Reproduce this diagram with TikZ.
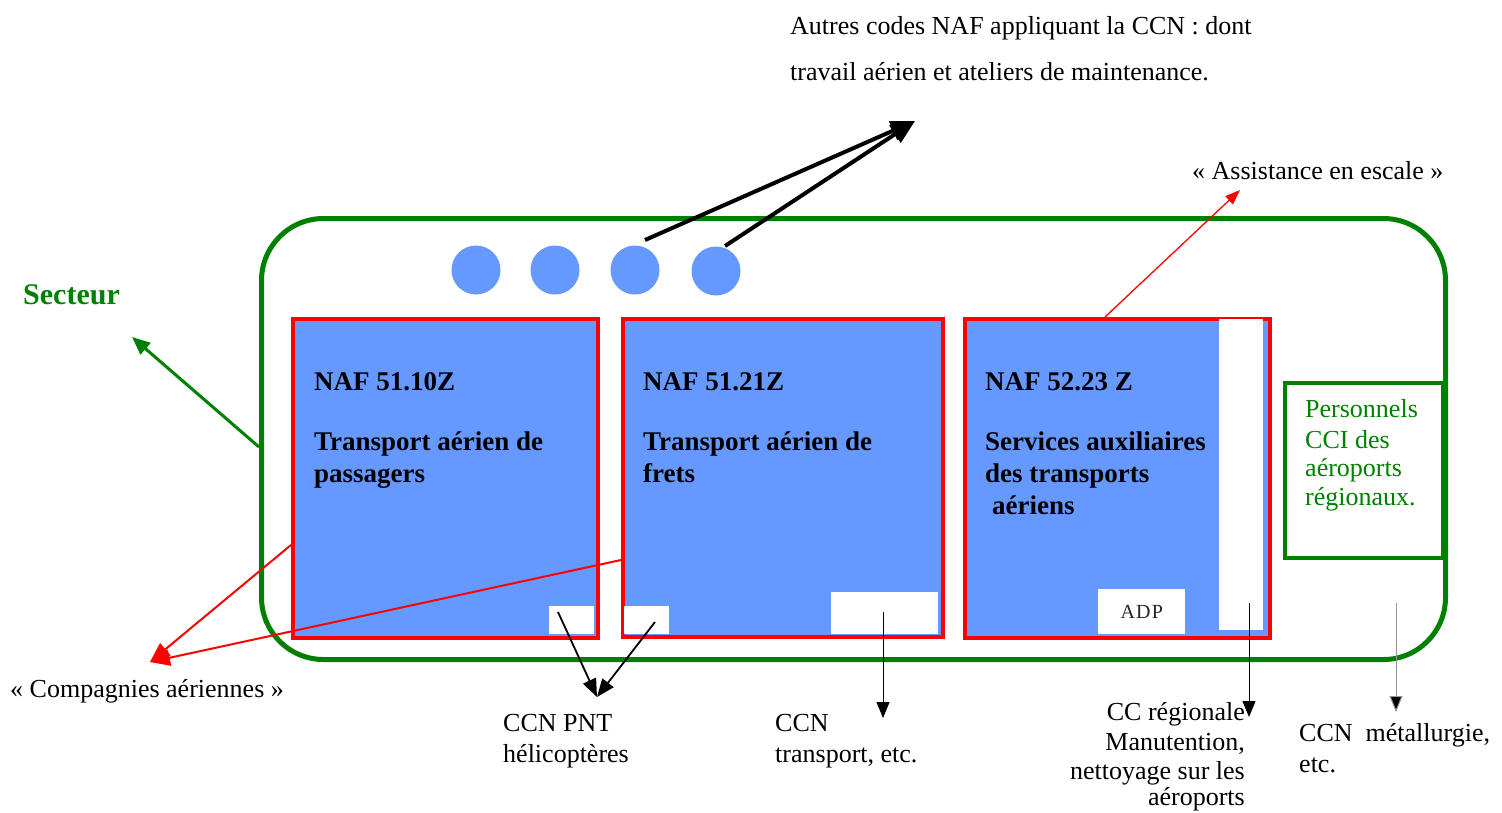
\documentclass[tikz,border=0pt]{standalone}
\usepackage{fontspec}
\setmainfont{Liberation Serif}
\usetikzlibrary{arrows.meta}
\definecolor{fillblue}{RGB}{102,153,255}
\definecolor{dgreen}{RGB}{0,128,0}
\definecolor{lgray}{RGB}{150,150,150}
\begin{document}
\begin{tikzpicture}[x=1pt,y=-1pt,
  nafbox/.style={draw=red,fill=fillblue,line width=4pt,anchor=north west,inner sep=0pt},
  patch/.style={fill=white,anchor=north west,inner sep=0pt},
  dot/.style={circle,fill=fillblue,minimum size=49pt,inner sep=0pt},
  btxt/.style={anchor=base west,inner sep=0pt,font=\bfseries\fontsize{27}{32}\selectfont},
  rtxt/.style={anchor=base west,inner sep=0pt,font=\fontsize{26}{31}\selectfont},
  rtxtr/.style={anchor=base east,inner sep=0pt,font=\fontsize{26}{31}\selectfont},
  gtxt/.style={rtxt,text=dgreen},
  bigarrow/.style={draw=black,line width=4pt,-{Triangle[length=24pt,width=20pt]}},
  redthin/.style={draw=red,line width=1.3pt,-{Triangle[length=15pt,width=11pt]}},
  redmid/.style={draw=red,line width=2pt,-{Triangle[length=20pt,width=16pt]}},
  blkmid/.style={draw=black,line width=1.8pt,-{Triangle[length=18pt,width=14pt]}},
  downarrow/.style={draw=black,line width=1pt,-{Triangle[length=16pt,width=13pt]}},
  grnarrow/.style={draw=dgreen,line width=3pt,-{Triangle[length=18pt,width=15pt]}}
]
\useasboundingbox (0,0) rectangle (1502,812);

% sector frame
\node[draw=dgreen,line width=5pt,rounded corners=62pt,anchor=north west,
      minimum width=1184pt,minimum height=441pt,inner sep=0pt] (sector) at (259,216) {};

% circles
\node[dot] (c1) at (476,270) {};
\node[dot] (c2) at (555,270) {};
\node[dot] (c3) at (635,270) {};
\node[dot] (c4) at (716,271) {};

% NAF boxes
\node[nafbox,minimum width=305pt,minimum height=319pt] (b1) at (291,317) {};
\node[nafbox,minimum width=320pt,minimum height=318pt] (b2) at (621,317) {};
\node[nafbox,minimum width=305pt,minimum height=319pt] (b3) at (963,317) {};

% white patches
\node[patch,minimum width=45pt,minimum height=28pt] (w1) at (549,606) {};
\node[patch,minimum width=45pt,minimum height=28pt] (w2) at (624,606) {};
\node[patch,minimum width=107pt,minimum height=42pt] (w3) at (831,592) {};
\node[patch,minimum width=87pt,minimum height=45pt,text=black!85,
      font=\fontsize{20}{22}\selectfont\addfontfeature{LetterSpace=6}] (adp) at (1098,589) {ADP};
\node[patch,minimum width=44pt,minimum height=311pt] (w4) at (1219,319) {};

% CCI box
\node[draw=dgreen,fill=white,line width=4pt,anchor=north west,inner sep=0pt,
      minimum width=158pt,minimum height=175pt] (cci) at (1283,381) {};

% box texts
\node[btxt] (t11) at (314,390) {NAF 51.10Z};
\node[btxt] (t12) at (314,450) {Transport aérien de};
\node[btxt] (t13) at (314,482) {passagers};
\node[btxt] (t21) at (643,390) {NAF 51.21Z};
\node[btxt] (t22) at (643,450) {Transport aérien de};
\node[btxt] (t23) at (643,482) {frets};
\node[btxt] (t31) at (985,390) {NAF 52.23 Z};
\node[btxt] (t32) at (985,450) {Services auxiliaires};
\node[btxt] (t33) at (985,482) {des transports};
\node[btxt] (t34) at (992,514) {aériens};

\node[gtxt] (g1) at (1305,417) {Personnels};
\node[gtxt] (g2) at (1305,448) {CCI des};
\node[gtxt] (g3) at (1305,476) {aéroports};
\node[gtxt] (g4) at (1305,505) {régionaux.};

% outer labels
\node[rtxt] (top1) at (790,34) {Autres codes NAF appliquant la CCN : dont};
\node[rtxt] (top2) at (790,80) {travail aérien et ateliers de maintenance.};
\node[rtxt] (assist) at (1192,179) {«~Assistance en escale~»};
\node[anchor=base west,inner sep=0pt,text=dgreen,font=\bfseries\fontsize{30}{34}\selectfont] (secteur) at (23,304) {Secteur};
\node[rtxt] (comp) at (10,697) {«~Compagnies aériennes~»};
\node[rtxt] (pnt1) at (503,731) {CCN PNT};
\node[rtxt] (pnt2) at (503,762) {hélicoptères};
\node[rtxt] (tr1) at (775,731) {CCN};
\node[rtxt] (tr2) at (775,762) {transport, etc.};
\node[rtxtr] (cc1) at (1245,720) {CC régionale};
\node[rtxtr] (cc2) at (1245,750) {Manutention,};
\node[rtxtr] (cc3) at (1245,779) {nettoyage sur les};
\node[rtxtr] (cc4) at (1245,805) {aéroports};
\node[rtxt] (met1) at (1299,741) {CCN\ \ métallurgie,};
\node[rtxt] (met2) at (1299,772) {etc.};

% arrow end coordinates
\coordinate (nafpt) at (915,121);
\coordinate (assistpt) at (1240,190);
\coordinate (secpt) at (132,337);
\coordinate (comppt) at (150,662);
\coordinate (pntpt) at (597,697);
\coordinate (trpt) at (883,718);
\coordinate (ccpt) at (1249,717);
\coordinate (metpt) at (1396,712);

% connectors
\draw[bigarrow] ([shift={(10,-30)}]c3.center) -- (nafpt);
\draw[bigarrow] ([shift={(9,-25)}]c4.center) -- (nafpt);
\draw[redthin] ([xshift=142pt]b3.north west) -- (assistpt);
\draw[grnarrow] (sector.west |- 0,447) -- (secpt);
\draw[redmid] (b1.west |- 0,545) -- (comppt);
\draw[redmid] (b2.west |- 0,560) -- (comppt);
\draw[blkmid] ([shift={(9,6)}]w1.north west) -- (pntpt);
\draw[blkmid] ([shift={(31,16)}]w2.north west) -- (pntpt);
\draw[downarrow] ([shift={(52,20)}]w3.north west) -- (trpt);
\draw[downarrow] ([shift={(30,284)}]w4.north west) -- (ccpt);
\draw[downarrow,draw=lgray,-{Triangle[length=16pt,width=13pt,fill=black]}] (1396,603) -- (metpt);
\end{tikzpicture}
\end{document}
